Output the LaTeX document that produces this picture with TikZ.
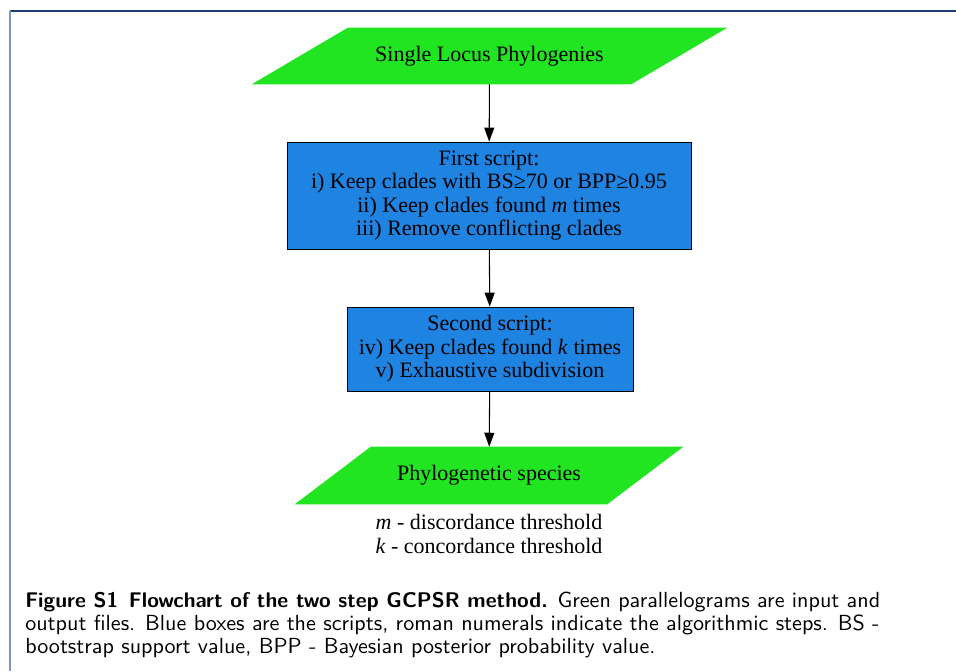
\documentclass[tikz,border=0pt]{standalone}
\usepackage{fontspec}
\setmainfont{Liberation Serif}
\newfontfamily\capsans{lmsans10-regular.otf}[FakeStretch=1.01]
\usepackage{xcolor}
\usetikzlibrary{positioning,arrows.meta,backgrounds}
\definecolor{scriptblue}{RGB}{31,131,226}
\definecolor{filegreen}{RGB}{34,229,34}
\definecolor{framenavy}{RGB}{28,60,110}
\definecolor{framegrey}{RGB}{128,150,184}
\newcommand{\capbold}[1]{{\sffamily\bfseries\fontsize{15.9}{17}\selectfont #1}}

\begin{document}
\begin{tikzpicture}[
  x=0.75pt, y=-0.75pt,
  every node/.style={font=\fontsize{16.5}{17.6}\selectfont},
  inout/.style={inner sep=0pt, align=center},
  script/.style={draw, fill=scriptblue, inner sep=0pt, align=center,
                 line width=0.6pt},
  arr/.style={-{Triangle[length=10.5pt,width=7.5pt]}, line width=0.8pt},
]
  \useasboundingbox (0,0) rectangle (956,671);

  % frame of the figure
  \draw[framenavy, line width=1.1pt] (10,11) -- (956,11);
  \draw[framegrey, line width=1.1pt] (10,11) -- (10,671);

  % input file
  \node[inout, minimum width=284.25pt, minimum height=42pt] (loci) at (489.5,56)
    {Single Locus Phylogenies};

  % first script
  \node[script, minimum width=303pt, minimum height=80.25pt] (first) at (489,195.5)
    {First script:\\
     i) Keep clades with BS≥70 or BPP≥0.95\\
     ii) Keep clades found \textit{m} times\\
     iii) Remove conflicting clades};

  % second script
  \node[script, minimum width=214.5pt, minimum height=63pt] (second) at (490,349)
    {Second script:\\
     iv) Keep clades found \textit{k} times\\
     v) Exhaustive subdivision};

  % output file
  \node[inout, minimum width=234pt, minimum height=42.75pt] (species) at (489,475.5)
    {Phylogenetic species};

  % legend of the parameters
  \node[align=center] (notes) at (489,534)
    {\textit{m} - discordance threshold\\
     \textit{k} - concordance threshold};

  % parallelograms behind the file nodes
  \begin{scope}[on background layer]
    \fill[filegreen] ([xshift=-36pt]loci.south west) -- ([xshift=-36pt]loci.south east)
      -- ([xshift=36pt]loci.north east) -- ([xshift=36pt]loci.north west) -- cycle;
    \fill[filegreen] ([xshift=-28.5pt]species.south west) -- ([xshift=-28.5pt]species.south east)
      -- ([xshift=28.5pt]species.north east) -- ([xshift=28.5pt]species.north west) -- cycle;
  \end{scope}

  \draw[arr] (loci) -- (first);
  \draw[arr] (first) -- (second);
  \draw[arr] (second) -- (species);

  % caption
  \node[anchor=base west, align=left, inner sep=0pt,
        font=\capsans\fontsize{16.4}{17}\selectfont]
        (caption) at (25,653)
    {\capbold{Figure S1\enspace Flowchart of the two step GCPSR method.} Green parallelograms are input and\\
     output files. Blue boxes are the scripts, roman numerals indicate the algorithmic steps. BS -\\
     bootstrap support value, BPP - Bayesian posterior probability value.};
\end{tikzpicture}
\end{document}
